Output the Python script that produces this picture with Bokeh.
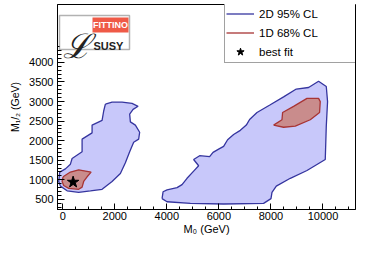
from bokeh.plotting import figure
from bokeh.models import (Range1d, SingleIntervalTicker, FixedTicker, Legend, LegendItem,
                          Label, BoxAnnotation)
from bokeh.embed import file_html
from bokeh.resources import INLINE

# ---------------- data ----------------
# 2D 95% CL region, low-M0 island
cl95_a_m0 = [1640, 1897, 2281, 2665, 2896, 2704, 2573, 2600, 2792, 2957, 2919, 2727,
             2573, 2408, 2216, 1897, 1513, 1064, 614, 169, -88, -154, -115, 104,
             296, 361, 745, 745, 1129, 1129, 1513, 1575]
cl95_a_m12 = [2936, 2984, 2984, 2951, 2878, 2799, 2679, 2480, 2398, 2215, 2038, 1958,
              1718, 1437, 1159, 957, 757, 717, 678, 717, 837, 957, 1197, 1279,
              1399, 1543, 1718, 2038, 2199, 2398, 2518, 2758]
# 2D 95% CL region, high-M0 island
cl95_b_m0 = [3817, 3856, 4009, 4393, 4585, 4777, 5031, 5223, 5031, 5261, 5645, 5776,
             5991, 6183, 6336, 6567, 6824, 7055, 7181, 7465, 7976, 8487, 8975, 9447,
             9831, 10127, 10177, 10127, 10088, 9386, 8745, 8207, 8041, 8003, 7719,
             6183, 4904, 4009]
cl95_b_m12 = [517, 693, 741, 798, 877, 1038, 1221, 1358, 1519, 1615, 1591, 1701,
              1783, 1855, 2023, 2158, 2264, 2398, 2542, 2720, 2919, 3119, 3320, 3359,
              3520, 3383, 2999, 2360, 1519, 1238, 1038, 837, 678, 517, 397,
              380, 397, 438]
# 1D 68% CL regions
cl68_a_m0 = [15, 296, 614, 1091, 937, 806, 745, 614, 230, 38, -23]
cl68_a_m12 = [1077, 1197, 1255, 1197, 1077, 957, 813, 757, 781, 853, 957]
cl68_b_m0 = [8103, 8425, 8449, 8871, 9386, 9831, 9896, 9869, 9512, 8936, 8487]
cl68_b_m12 = [2398, 2535, 2720, 2878, 3080, 3080, 2999, 2720, 2535, 2374, 2343]
# best fit point
best_m0 = [400]
best_m12 = [940]

y_major = [500, 1000, 1500, 2000, 2500, 3000, 3500, 4000]
y_minor = [v for v in range(300, 4401, 100) if v % 500 != 0]

legend_labels = ["2D 95% CL", "1D 68% CL", "best fit"]
x_title = "M₀ (GeV)"
y_title = "M₁/₂ (GeV)"

BLUE_FILL = "#c8c8fa"
BLUE_LINE = "#35359f"
RED_FILL = "#c98c8c"
RED_LINE = "#a83434"
FONT = "Liberation Sans"


def closed(v):
    return list(v) + [v[0]]


p = figure(frame_width=298, frame_height=205, output_backend="svg", toolbar_location=None,
           x_range=Range1d(-200, 11250), y_range=Range1d(240, 5481),
           min_border_left=57, min_border_right=3, min_border_top=4, min_border_bottom=28)
p.background_fill_color = "white"
p.border_fill_color = "white"
p.outline_line_color = "black"
p.outline_line_width = 1
p.xgrid.grid_line_color = None
p.ygrid.grid_line_color = None

# regions
p.patches([cl95_a_m0, cl95_b_m0], [cl95_a_m12, cl95_b_m12], fill_color=BLUE_FILL,
          fill_alpha=1, line_color=None)
blue_outline = p.multi_line([closed(cl95_a_m0), closed(cl95_b_m0)],
                            [closed(cl95_a_m12), closed(cl95_b_m12)],
                            line_color=BLUE_LINE, line_width=1.3)
p.patches([cl68_a_m0, cl68_b_m0], [cl68_a_m12, cl68_b_m12], fill_color=RED_FILL,
          fill_alpha=1, line_color=None)
red_outline = p.multi_line([closed(cl68_a_m0), closed(cl68_b_m0)],
                           [closed(cl68_a_m12), closed(cl68_b_m12)],
                           line_color=RED_LINE, line_width=1.3)
star = p.scatter(best_m0, best_m12, marker="star", size=12, fill_color="black",
                 line_color="black")

# axes
xax = p.xaxis[0]
yax = p.yaxis[0]
xax.ticker = SingleIntervalTicker(interval=2000, num_minor_ticks=4)
yax.ticker = FixedTicker(ticks=y_major, minor_ticks=y_minor)
for ax in (xax, yax):
    ax.axis_line_color = "black"
    ax.major_tick_line_color = "black"
    ax.minor_tick_line_color = "black"
    ax.major_tick_out = 0
    ax.minor_tick_out = 0
    ax.major_label_text_font = FONT
    ax.major_label_text_font_size = "11px"
    ax.major_label_text_color = "black"
    ax.axis_label_text_font = FONT
    ax.axis_label_text_font_style = "normal"
    ax.axis_label_text_color = "black"
xax.major_tick_in = 6
xax.minor_tick_in = 3
yax.major_tick_in = 7
yax.minor_tick_in = 4
xax.major_label_standoff = 2
yax.major_label_standoff = 4
xax.axis_label = x_title
yax.axis_label = y_title
xax.axis_label_text_font_size = "11px"
yax.axis_label_text_font_size = "10.5px"
xax.axis_label_standoff = 0
yax.axis_label_standoff = 5

# legend (top edge on the frame's top edge)
legend = Legend(items=[LegendItem(label=legend_labels[0], renderers=[blue_outline]),
                       LegendItem(label=legend_labels[1], renderers=[red_outline]),
                       LegendItem(label=legend_labels[2], renderers=[star])],
                location=(167, 146), orientation="vertical",
                glyph_width=28, glyph_height=19, label_height=19, spacing=0,
                padding=1, margin=0, label_standoff=5, label_width=96,
                label_text_font=FONT, label_text_font_size="11.5px",
                label_text_color="black",
                border_line_color="#444444", border_line_width=1,
                background_fill_color="white", background_fill_alpha=1)
p.add_layout(legend)

# Fittino logo (kept inside the plot frame, at its top-left corner)
box_kw = dict(left_units="canvas", right_units="canvas", top_units="canvas",
              bottom_units="canvas")
p.add_layout(BoxAnnotation(left=59, right=129, top=15, bottom=49, fill_color="white",
                           fill_alpha=1, line_color="black", line_width=1.5, **box_kw))
p.add_layout(BoxAnnotation(left=92, right=128, top=17, bottom=32, fill_color="#ef5a47",
                           fill_alpha=1, line_color=None, **box_kw))
txt_kw = dict(x_units="canvas", y_units="canvas", text_font=FONT)
p.add_layout(Label(x=110, y=24.5, text="FITTINO", text_font_size="9px",
                   text_font_style="bold", text_align="center", text_baseline="middle",
                   text_color="white", **txt_kw))
p.add_layout(Label(x=93, y=45, text="SUSY", text_font_size="11px", text_font_style="bold",
                   text_align="left", text_baseline="alphabetic", text_color="#222222",
                   **txt_kw))
p.add_layout(Label(x=62, y=45, text="ℒ", text_font_size="34px", text_font_style="italic",
                   text_align="left", text_baseline="alphabetic", x_units="canvas",
                   y_units="canvas", text_font="DejaVu Serif", text_color="#222222"))

open("out.html", "w").write(file_html(p, INLINE))
